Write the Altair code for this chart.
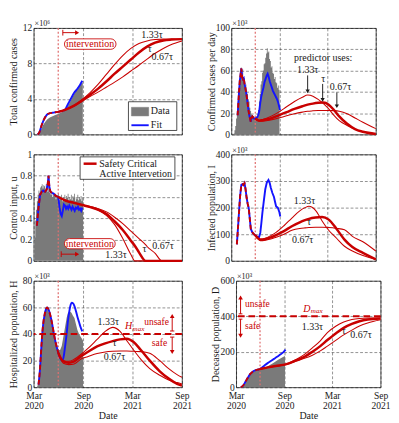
import altair as alt
import pandas as pd

FONT = "Liberation Serif"
RED = "#c80000"
BLUE = "#1414ff"
GRAY = "#7a7a7a"
PINK = "#e07070"
INK = "#1a1a1a"

# x axis: days since 1 March 2020
X_TICKS = [0, 184, 365, 549]
X_MONTHS = ["Mar", "Sep", "Mar", "Sep"]
X_YEARS = ["2020", "2020", "2021", "2021"]
INTERVENTION = 91
SERIES = ["1.33τ", "τ", "0.67τ"]
SERIES_WIDTH = [1.1, 2.6, 1.1]

# ---------- Panel 1: total confirmed cases (x10^6) ----------
P1_DATA_DAY = [15, 22, 28, 34, 40, 46, 52, 60, 70, 80, 90, 100, 110, 116, 125, 132, 139, 150, 162, 172, 182]
P1_DATA_VAL = [0, 0.2, 0.6, 1.0, 1.3, 1.55, 1.75, 1.9, 2.05, 2.2, 2.3, 2.45, 2.6, 2.7, 3.1, 3.5, 3.95, 4.6, 5.1, 5.55, 5.9]
P1_FIT_DAY = [15, 22, 28, 34, 40, 46, 52, 60, 70, 80, 91, 100, 110, 116, 125, 132, 139, 150, 162, 172, 180]
P1_FIT_VAL = [0, 0.3, 0.9, 1.4, 1.8, 2.1, 2.3, 2.4, 2.45, 2.5, 2.55, 2.62, 2.7, 2.78, 3.3, 3.7, 4.1, 4.7, 5.15, 5.6, 6.05]
P1_SCAI_DAY = [91, 116, 150, 180, 210, 240, 270, 300, 330, 360, 390, 420, 450, 480, 510, 549]
P1_SCAI = [
    [2.55, 2.78, 3.3, 3.95, 4.75, 5.7, 6.8, 7.9, 8.9, 9.7, 10.25, 10.55, 10.7, 10.75, 10.75, 10.75],
    [2.55, 2.78, 3.25, 3.85, 4.5, 5.2, 6.0, 6.85, 7.65, 8.45, 9.25, 9.9, 10.35, 10.6, 10.7, 10.75],
    [2.55, 2.78, 3.2, 3.75, 4.3, 4.8, 5.35, 5.9, 6.5, 7.15, 7.8, 8.5, 9.15, 9.7, 10.15, 10.55],
]

# ---------- Panel 2: confirmed cases per day (x10^3) ----------
P2_DATA_DAY = list(range(9, 186, 3))
P2_DATA_VAL = [1, 4, 8, 15, 22, 31, 40, 47, 55, 63,
               58, 61, 50, 53, 45, 47, 40, 38, 33, 31,
               25, 22, 19, 18, 16, 17, 15, 16, 14, 17,
               19, 23, 31, 38, 47, 50, 58, 60, 66, 67,
               72, 76, 81, 77, 78, 71, 69, 63, 64, 58,
               57, 52, 54, 49, 48, 44, 46, 42, 44]
P2_FIT_DAY = [24, 28, 32, 36, 38, 41, 44, 47, 50, 53, 56, 60, 64, 68, 72, 74, 77, 80, 86, 91,
              98, 102, 106, 110, 114, 118, 122, 126, 130, 134, 138, 142, 146, 150, 154, 158,
              162, 166, 170, 174, 178, 182, 185]
P2_FIT_VAL = [18, 35, 50, 58, 62, 54, 52, 53, 48, 44, 40, 33, 25, 18, 14, 12, 16, 17, 15, 15,
              16, 18, 22, 30, 36, 40, 44, 49, 52, 55, 57, 54, 50, 47, 44, 41,
              39, 37, 35, 33, 30, 26, 23]
P2_SCAI_DAY = [91, 105, 120, 150, 180, 210, 240, 270, 290, 310, 330, 350, 370, 390, 410, 440, 470, 500, 549]
P2_SCAI = [
    [15, 13, 14, 17, 21, 26, 31, 35, 37, 36, 33, 29, 24, 18, 13, 8.5, 5, 2.5, 0.3],
    [15, 13, 13.5, 15, 18, 21, 24, 26.5, 28, 29, 29.7, 30, 28, 23, 17, 10, 5, 2.5, 0.5],
    [15, 12.5, 12.5, 13.5, 15.5, 17.5, 19.5, 21, 21.8, 22.2, 22.5, 22.6, 22.6, 22.4, 21.8, 19.5, 15.5, 11.5, 5.5],
]

# ---------- Panel 3: control input u ----------
P3_DATA_DAY = list(range(3, 186, 3))
P3_DATA_VAL = [0.22, 0.38, 0.48, 0.56, 0.62, 0.66, 0.64, 0.69, 0.7, 0.72,
               0.68, 0.71, 0.7, 0.66, 0.72, 0.69, 0.65, 0.7, 0.64, 0.66,
               0.62, 0.65, 0.6, 0.64, 0.61, 0.63, 0.58, 0.62, 0.6, 0.63,
               0.57, 0.61, 0.59, 0.62, 0.56, 0.6, 0.58, 0.62, 0.57, 0.61,
               0.59, 0.63, 0.56, 0.6, 0.58, 0.62, 0.57, 0.61, 0.59, 0.63,
               0.56, 0.6, 0.58, 0.62, 0.57, 0.6, 0.58, 0.61, 0.56, 0.59,
               0.57]
P3_FIT_DAY = [12, 18, 24, 30, 36, 42, 48, 52, 55, 58, 62, 68, 75, 82, 91, 96, 100, 104, 108, 112,
              116, 120, 124, 128, 132, 136, 140, 144, 148, 152, 156, 160, 164, 168, 172, 176, 180]
P3_FIT_VAL = [0.33, 0.5, 0.62, 0.65, 0.66, 0.65, 0.67, 0.72, 0.8, 0.7, 0.65, 0.64, 0.63, 0.61, 0.6, 0.5, 0.44, 0.42, 0.47, 0.53,
              0.52, 0.49, 0.51, 0.49, 0.52, 0.5, 0.48, 0.51, 0.49, 0.47, 0.5, 0.49, 0.51, 0.48, 0.49, 0.47, 0.5]
P3_SCAI_DAY = [91, 120, 150, 180, 210, 240, 270, 300, 330, 360, 375, 390, 415, 420, 450, 475, 549]
P3_SCAI = [
    [0.6, 0.565, 0.545, 0.525, 0.505, 0.475, 0.425, 0.34, 0.21, 0.06, 0, 0, 0, 0, 0, 0, 0],
    [0.6, 0.565, 0.545, 0.525, 0.505, 0.48, 0.44, 0.37, 0.29, 0.19, 0.14, 0.08, 0, 0, 0, 0, 0],
    [0.6, 0.565, 0.545, 0.525, 0.51, 0.49, 0.46, 0.41, 0.35, 0.28, 0.245, 0.21, 0.15, 0.135, 0.07, 0, 0],
]

# ---------- Panel 4: infected population I (x10^3) ----------
P4_FIT_DAY = [21, 27, 33, 38, 42, 46, 50, 54, 58, 62, 66, 70, 74, 80, 86, 91, 100, 105, 110, 114,
              118, 123, 129, 135, 141, 146, 150, 156, 162, 166, 170, 177, 182, 186]
P4_FIT_VAL = [62, 150, 240, 286, 288, 285, 292, 270, 238, 215, 199, 160, 120, 107, 100, 96, 90, 88, 105, 141,
              180, 222, 269, 295, 304, 292, 275, 255, 240, 222, 205, 199, 185, 167]
P4_SCAI_DAY = [91, 100, 110, 130, 150, 170, 200, 230, 260, 280, 295, 320, 345, 370, 400, 430, 460, 500, 549]
P4_SCAI = [
    [96, 86, 80, 85, 95, 107, 132, 161, 188, 200, 205, 190, 150, 115, 85, 55, 37, 20, 6],
    [96, 86, 80, 82, 88, 97, 112, 130, 145, 153, 158, 163, 165, 155, 120, 80, 52, 30, 6],
    [96, 84, 76, 78, 82, 89, 100, 115, 122, 124, 125, 126, 126, 125, 122, 117, 92, 72, 37],
]

# ---------- Panel 5: hospitalized population H (x10^3) ----------
P5_DATA_DAY = [12, 18, 23, 28, 35, 42, 49, 56, 64, 72, 81, 88, 93, 98, 104, 110, 116, 122, 127, 134,
               140, 145, 151, 156, 162, 168, 174, 180, 183]
P5_DATA_VAL = [0, 3, 18, 32, 48, 57, 60, 56, 50, 42, 35, 30, 28, 28, 31, 38, 45, 52, 56, 57,
               56, 54, 52, 48, 43, 40, 38, 36, 35]
P5_FIT_DAY = [18, 22, 26, 30, 35, 41, 46, 50, 56, 64, 70, 75, 81, 87, 91, 98, 103, 107, 112, 116,
              122, 127, 132, 137, 141, 146, 151, 157, 162, 168, 174, 180]
P5_FIT_VAL = [2, 10, 22, 35, 47, 55, 59, 60, 58, 52, 46, 40, 34, 29, 26, 22, 20.5, 20, 24, 30,
              40, 50, 57, 62, 63.5, 63, 61, 57, 53, 49, 45, 42]
P5_SCAI_DAY = [91, 100, 110, 130, 150, 177, 200, 235, 265, 293, 320, 345, 370, 397, 430, 467, 500, 531, 549]
P5_SCAI = [
    [26, 22, 20, 19.5, 21, 25, 29, 36, 42, 45, 42, 35, 28, 21, 14, 9, 5.5, 3.5, 2.5],
    [26, 22, 19.5, 18.5, 19.5, 23.5, 26.5, 30.7, 33, 34.7, 36, 36.5, 34, 28, 20, 12, 6.5, 2.5, 1.2],
    [26, 21, 18, 17, 17.5, 21.4, 23, 25.3, 26.5, 27, 27.2, 27.2, 27, 26.8, 25.5, 20, 14, 9.5, 7.5],
]
H_MAX = 40

# ---------- Panel 6: deceased population D (x10^3) ----------
P6_DATA_DAY = [20, 30, 40, 50, 60, 70, 80, 90, 100, 110, 120, 130, 140, 150, 160, 170, 180, 186]
P6_DATA_VAL = [0, 10, 35, 62, 82, 92, 97, 100, 104, 110, 118, 127, 136, 145, 155, 163, 172, 176]
P6_FIT_DAY = [18, 27, 36, 45, 54, 63, 72, 81, 91, 100, 110, 120, 132, 144, 156, 168, 180, 188]
P6_FIT_VAL = [0, 10, 32, 55, 75, 88, 95, 99, 103, 113, 125, 136, 148, 160, 172, 185, 198, 212]
P6_SCAI_DAY = [91, 120, 150, 188, 230, 260, 290, 320, 347, 380, 409, 440, 469, 500, 549]
P6_SCAI = [
    [103, 112, 120, 130, 158, 185, 222, 262, 308, 345, 368, 382, 388, 390, 390],
    [103, 112, 120, 129, 153, 172, 200, 232, 266, 305, 335, 357, 372, 382, 388],
    [103, 112, 119, 127, 148, 163, 181, 205, 232, 266, 295, 322, 345, 362, 380],
]
D_MAX = 400


# ---------------------------------------------------------------- helpers
def encodings(ydom, yticks, ytitle, yfmt, bottom):
    if bottom:
        parts = [f"datum.value == {t} ? ['{m}', '{y}']" for t, m, y in zip(X_TICKS, X_MONTHS, X_YEARS)]
        expr = " : ".join(parts) + " : ''"
        xaxis = alt.Axis(values=X_TICKS, labelExpr=expr, title="Date", grid=True,
                         labelFlush=False, labelOverlap=False, labelPadding=4, titlePadding=1)
    else:
        xaxis = alt.Axis(values=X_TICKS, labels=False, title=None, grid=True)
    X = alt.X("d:Q", scale=alt.Scale(domain=[0, 549], nice=False, zero=False), axis=xaxis)
    Y = alt.Y("v:Q", scale=alt.Scale(domain=ydom, nice=False, zero=False),
              axis=alt.Axis(values=yticks, title=ytitle, format=yfmt, grid=True))
    return X, Y


def area(X, Y, d, v, step=False):
    return alt.Chart(pd.DataFrame({"d": d, "v": v})).mark_area(
        color=GRAY, interpolate="step-after" if step else "linear").encode(x=X, y=Y)


def line(X, Y, d, v, color, width, interp="linear", dash=None):
    kw = dict(color=color, strokeWidth=width, interpolate=interp)
    if dash:
        kw["strokeDash"] = dash
    return alt.Chart(pd.DataFrame({"d": d, "v": v})).mark_line(**kw).encode(x=X, y=Y)


def pre_fit(d, v):
    dd = [a for a in d if a <= INTERVENTION]
    return dd, v[:len(dd)]


def scai(X, Y, d, curves):
    return [line(X, Y, d, vals, RED, w, interp="monotone") for vals, w in zip(curves, SERIES_WIDTH)]


def vrule(X, d, color, width, dash):
    return alt.Chart(pd.DataFrame({"d": [d]})).mark_rule(
        color=color, strokeWidth=width, strokeDash=dash).encode(x=X)


def hrule(Y, v, color, width, dash):
    return alt.Chart(pd.DataFrame({"v": [v]})).mark_rule(
        color=color, strokeWidth=width, strokeDash=dash).encode(y=Y)


def seg(X, Y, d, d2, v, v2, color=RED, width=1.0):
    return alt.Chart(pd.DataFrame({"d": [d], "d2": [d2], "v": [v], "v2": [v2]})).mark_rule(
        color=color, strokeWidth=width).encode(x=X, x2="d2:Q", y=Y, y2="v2:Q")


def box(X, Y, d, d2, v, v2, fill="white", stroke=INK, radius=0, width=0.8):
    return alt.Chart(pd.DataFrame({"d": [d], "d2": [d2], "v": [v], "v2": [v2]})).mark_rect(
        fill=fill, stroke=stroke, strokeWidth=width, cornerRadius=radius).encode(
        x=X, x2="d2:Q", y=Y, y2="v2:Q")


def label(X, Y, d, v, t, color=INK, size=10.5, align="center", style="normal", dx=0, dy=0):
    return alt.Chart(pd.DataFrame({"d": [d], "v": [v], "t": [t]})).mark_text(
        font=FONT, fontSize=size, color=color, align=align, baseline="middle",
        fontStyle=style, dx=dx, dy=dy).encode(x=X, y=Y, text="t:N")


def head(X, Y, d, v, shape, color=RED, size=24):
    return alt.Chart(pd.DataFrame({"d": [d], "v": [v]})).mark_point(
        shape=shape, filled=True, size=size, color=color, opacity=1).encode(x=X, y=Y)


def scale_note(text):
    return alt.Chart(pd.DataFrame({"t": [text]})).mark_text(
        font=FONT, fontSize=8.5, color=INK, align="left", baseline="bottom").encode(
        x=alt.value(1), y=alt.value(0), text="t:N")


def tau_labels(X, Y, pos):
    return [label(X, Y, d, v, t) for (d, v), t in zip(pos, SERIES)]


LW, RW, H = 156, 152, 112

# ---------------------------------------------------------------- panel 1
X, Y = encodings([0, 12], [0, 4, 8, 12], "Total confirmed cases", "d", False)
fd, fv = pre_fit(P1_FIT_DAY, P1_FIT_VAL)
p1 = alt.layer(
    area(X, Y, P1_DATA_DAY, P1_DATA_VAL),
    vrule(X, INTERVENTION, PINK, 1.3, [2, 2]),
    line(X, Y, P1_FIT_DAY, P1_FIT_VAL, BLUE, 2, "monotone"),
    line(X, Y, fd, fv, RED, 2, "monotone", [5, 3]),
    *scai(X, Y, P1_SCAI_DAY, P1_SCAI),
    *tau_labels(X, Y, [(438, 11.2), (430, 9.6), (476, 8.7)]),
    box(X, Y, 114, 305, 9.6, 10.78, stroke=RED, radius=6, width=0.9),
    label(X, Y, 209, 10.19, "intervention", color=RED),
    seg(X, Y, 108, 160, 11.48, 11.48),
    seg(X, Y, 108, 108, 11.15, 11.8),
    head(X, Y, 161, 11.48, "triangle-right"),
    box(X, Y, 351, 530, 0.45, 3.69),
    box(X, Y, 362, 426, 2.09, 3.06, fill=GRAY, stroke=GRAY, width=0.5),
    label(X, Y, 434, 2.58, "Data", align="left"),
    seg(X, Y, 362, 426, 1.04, 1.04, color=BLUE, width=2),
    label(X, Y, 434, 1.04, "Fit", align="left"),
    scale_note("×10⁶"),
).properties(width=LW, height=H)

# ---------------------------------------------------------------- panel 2
X, Y = encodings([0, 100], [0, 20, 40, 60, 80, 100], "Confirmed cases per day", "d", False)
fd, fv = pre_fit(P2_FIT_DAY, P2_FIT_VAL)
p2 = alt.layer(
    area(X, Y, P2_DATA_DAY, P2_DATA_VAL, step=True),
    vrule(X, INTERVENTION, PINK, 1.3, [2, 2]),
    line(X, Y, P2_FIT_DAY, P2_FIT_VAL, BLUE, 2),
    line(X, Y, fd, fv, RED, 2, "linear", [5, 3]),
    *scai(X, Y, P2_SCAI_DAY, P2_SCAI),
    label(X, Y, 349, 72, "predictor uses:"),
    *tau_labels(X, Y, [(290, 60), (349, 51.6), (415, 44.3)]),
    seg(X, Y, 290, 290, 55.5, 41, color=INK),
    head(X, Y, 290, 40.5, "triangle-down", color=INK, size=20),
    seg(X, Y, 347, 347, 47.5, 33, color=INK),
    head(X, Y, 347, 32.5, "triangle-down", color=INK, size=20),
    seg(X, Y, 401, 401, 39.5, 27, color=INK),
    head(X, Y, 401, 26.5, "triangle-down", color=INK, size=20),
    scale_note("×10³"),
).properties(width=RW, height=H)

# ---------------------------------------------------------------- panel 3
X, Y = encodings([0, 1], [0, 0.2, 0.4, 0.6, 0.8, 1], "Control input, u", "~g", False)
fd, fv = pre_fit(P3_FIT_DAY, P3_FIT_VAL)
p3 = alt.layer(
    area(X, Y, P3_DATA_DAY, P3_DATA_VAL, step=True),
    vrule(X, INTERVENTION, PINK, 1.3, [2, 2]),
    line(X, Y, P3_FIT_DAY, P3_FIT_VAL, BLUE, 2),
    line(X, Y, fd, fv, RED, 2, "linear", [5, 3]),
    *scai(X, Y, P3_SCAI_DAY, P3_SCAI),
    *tau_labels(X, Y, [(305, 0.055), (410, 0.107), (479, 0.136)]),
    box(X, Y, 114, 302, 0.113, 0.209, stroke=RED, radius=6, width=0.9),
    label(X, Y, 208, 0.161, "intervention", color=RED),
    seg(X, Y, 102, 160, 0.063, 0.063),
    seg(X, Y, 102, 102, 0.036, 0.09),
    head(X, Y, 161, 0.063, "triangle-right"),
    box(X, Y, 172, 523, 0.766, 0.977),
    seg(X, Y, 185, 233, 0.913, 0.913, color=RED, width=2.6),
    label(X, Y, 243, 0.913, "Safety Critical", align="left"),
    label(X, Y, 243, 0.817, "Active Intervetion", align="left"),
).properties(width=LW, height=H)

# ---------------------------------------------------------------- panel 4
X, Y = encodings([0, 400], [0, 100, 200, 300, 400], "Infected population, I", "d", False)
fd, fv = pre_fit(P4_FIT_DAY, P4_FIT_VAL)
p4 = alt.layer(
    vrule(X, INTERVENTION, PINK, 1.3, [2, 2]),
    line(X, Y, P4_FIT_DAY, P4_FIT_VAL, BLUE, 2),
    line(X, Y, fd, fv, RED, 2, "linear", [5, 3]),
    *scai(X, Y, P4_SCAI_DAY, P4_SCAI),
    *tau_labels(X, Y, [(278, 226), (295, 145), (271, 78)]),
    scale_note("×10³"),
).properties(width=RW, height=H)

# ---------------------------------------------------------------- panel 5
X, Y = encodings([0, 80], [0, 20, 40, 60, 80], "Hospitalized population, H", "d", True)
fd, fv = pre_fit(P5_FIT_DAY, P5_FIT_VAL)
p5 = alt.layer(
    area(X, Y, P5_DATA_DAY, P5_DATA_VAL),
    vrule(X, INTERVENTION, PINK, 1.3, [2, 2]),
    line(X, Y, P5_FIT_DAY, P5_FIT_VAL, BLUE, 2, "monotone"),
    line(X, Y, fd, fv, RED, 2, "monotone", [5, 3]),
    *scai(X, Y, P5_SCAI_DAY, P5_SCAI),
    hrule(Y, H_MAX, RED, 2, [7, 4]),
    *tau_labels(X, Y, [(276, 48.6), (299, 32.8), (299, 22.3)]),
    label(X, Y, 338, 45.6, "H", color=RED, style="italic", align="left"),
    label(X, Y, 338, 45.6, "max", color=RED, style="italic", align="left", size=7.5, dx=8, dy=3),
    label(X, Y, 455, 48.6, "unsafe", color=RED, size=10),
    label(X, Y, 466, 33, "safe", color=RED, size=10),
    seg(X, Y, 505, 521, 42.3, 42.3),
    seg(X, Y, 513, 513, 42.3, 52.5),
    head(X, Y, 513, 53.5, "triangle-up"),
    seg(X, Y, 505, 521, 37.7, 37.7),
    seg(X, Y, 513, 513, 37.7, 27.5),
    head(X, Y, 513, 26.5, "triangle-down"),
    scale_note("×10³"),
).properties(width=LW, height=H)

# ---------------------------------------------------------------- panel 6
X, Y = encodings([0, 600], [0, 200, 400, 600], "Deceased population, D", "d", True)
fd, fv = pre_fit(P6_FIT_DAY, P6_FIT_VAL)
p6 = alt.layer(
    area(X, Y, P6_DATA_DAY, P6_DATA_VAL),
    vrule(X, INTERVENTION, PINK, 1.3, [2, 2]),
    line(X, Y, P6_FIT_DAY, P6_FIT_VAL, BLUE, 2, "monotone"),
    line(X, Y, fd, fv, RED, 2, "monotone", [5, 3]),
    *scai(X, Y, P6_SCAI_DAY, P6_SCAI),
    hrule(Y, D_MAX, RED, 2, [7, 4]),
    *tau_labels(X, Y, [(290, 338), (409, 317), (475, 295)]),
    label(X, Y, 255, 443, "D", color=RED, style="italic", align="left"),
    label(X, Y, 255, 443, "max", color=RED, style="italic", align="left", size=7.5, dx=8, dy=3),
    label(X, Y, 34, 469, "unsafe", color=RED, align="left", size=10),
    label(X, Y, 34, 347, "safe", color=RED, align="left", size=10),
    seg(X, Y, 10, 24, 414, 414),
    seg(X, Y, 17, 17, 414, 500),
    head(X, Y, 17, 506, "triangle-up"),
    seg(X, Y, 10, 24, 384, 384),
    seg(X, Y, 17, 17, 384, 296),
    head(X, Y, 17, 290, "triangle-down"),
    scale_note("×10³"),
).properties(width=RW, height=H)

row1 = alt.hconcat(p1, p2, spacing=19)
row2 = alt.hconcat(p3, p4, spacing=19)
row3 = alt.hconcat(p5, p6, spacing=19)

chart = alt.vconcat(row1, row2, row3, spacing=5).properties(
    padding={"left": 0, "top": 0, "right": 0, "bottom": 0}
).configure(font=FONT).configure_view(
    stroke="#333333", strokeWidth=0.9
).configure_axis(
    labelFont=FONT, titleFont=FONT, labelFontSize=10, titleFontSize=10.5,
    titleFontWeight="normal", labelColor=INK, titleColor=INK,
    gridColor="#000000", gridDash=[3, 2], gridOpacity=0.75, gridWidth=0.6,
    domain=False, ticks=False, labelPadding=2, titlePadding=1, labelLineHeight=10,
).configure_axisY(minExtent=15, maxExtent=15)

chart.save("out.html", embed_options={"renderer": "svg", "actions": False})
